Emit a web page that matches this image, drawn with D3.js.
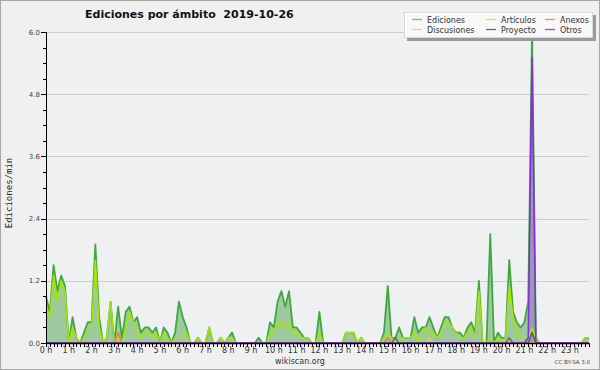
<!DOCTYPE html>
<html>
<head>
<meta charset="utf-8">
<script src="https://cdn.jsdelivr.net/npm/d3@7"></script>
<style>
  body { margin: 0; background: #fff; }
  svg { display: block; font-family: "DejaVu Sans", sans-serif; }
</style>
</head>
<body>
<svg width="600" height="370"></svg>
<script>
// one value every 10 minutes, edits per minute (6 per hour row)
const ediciones = [
  0.9,0.6,1.5,1.0,1.3,1.1,  0,0.5,0.1,0,0.2,0.4,  0.4,1.9,0.5,0,0.1,0.8,  0,0.7,0.1,0.6,0.7,0.4,
  0.5,0.2,0.3,0.3,0.2,0.3,  0,0.3,0.2,0,0.2,0.8,  0.5,0.3,0,0,0.1,0,      0,0.3,0,0,0.1,0,
  0.1,0.2,0,0,0,0,          0,0,0.1,0,0,0.4,      0.3,0.8,1.0,0.7,1.0,0.3, 0.3,0.2,0.1,0.1,0,0,
  0.6,0,0,0,0,0,            0,0.2,0.2,0.2,0,0.1,  0,0,0,0,0,0.2,          1.1,0.1,0.1,0.3,0.1,0.1,
  0.1,0.5,0.2,0.3,0.3,0.5,  0.3,0.1,0.3,0.5,0.5,0.3, 0.2,0.2,0.1,0.3,0.4,0.2, 1.2,0,0,2.1,0,0.2,
  0.1,0.1,1.6,0.6,0.4,0.3,  0.4,0.8,6.0,0.1,0,0,  0,0,0,0,0,0,            0,0,0,0,0.1,0.1
];
const articulos = [
  0.6,0.5,1.3,0.8,1.2,1.0,  0,0.3,0.1,0,0.1,0.3,  0.3,1.6,0.3,0,0.1,0.8,  0,0.2,0,0.3,0.6,0.4,
  0.2,0.1,0.2,0.2,0.1,0.2,  0,0.2,0.1,0,0.1,0.1,  0.1,0.2,0,0,0.1,0,      0,0.3,0,0,0.1,0,
  0.1,0.1,0,0,0,0,          0,0,0,0,0,0.2,        0.2,0.4,0.4,0.3,0.4,0.2, 0.2,0.1,0.1,0.1,0,0,
  0.2,0,0,0,0,0,            0,0.2,0.2,0.2,0,0.1,  0,0,0,0,0,0.1,          0.2,0.1,0,0,0.1,0.1,
  0.1,0.2,0,0.2,0.3,0.2,    0.2,0.1,0.2,0.4,0.4,0.3, 0.2,0.1,0.1,0.2,0.3,0.1, 1.0,0,0,0.1,0,0.1,
  0,0.1,1.1,0.5,0.2,0.1,    0.1,0.1,0.3,0.1,0,0,  0,0,0,0,0,0,            0,0,0,0,0.1,0.1
];
const anexos = [
  0,0,0,0,0,0, 0,0,0,0,0,0, 0,0,0,0,0,0, 0,0.2,0,0,0,0,
  0,0,0,0,0,0, 0,0,0,0,0,0, 0,0,0,0,0,0, 0,0,0,0,0,0,
  0,0,0,0,0,0, 0,0,0,0,0,0, 0,0,0,0,0,0, 0,0,0,0,0,0,
  0,0,0,0,0,0, 0,0,0,0,0,0, 0,0,0,0,0,0, 0.1,0,0,0,0,0,
  0,0,0,0,0,0, 0,0,0,0,0,0, 0,0,0,0,0,0, 0,0,0,0,0,0,
  0,0,0,0,0,0, 0,0,0,0,0,0, 0,0,0,0,0,0, 0,0,0,0,0,0
];
const discusiones = [
  0,0,0,0,0,0, 0,0,0,0,0,0, 0,0,0,0,0,0, 0,0,0,0,0,0,
  0,0,0,0,0,0, 0,0,0,0,0,0, 0,0,0,0,0,0, 0,0,0,0,0,0,
  0,0,0,0,0,0, 0,0,0,0,0,0, 0,0,0,0,0,0, 0,0,0,0,0,0,
  0,0,0,0,0,0, 0,0,0,0,0,0, 0,0,0,0,0,0, 0,0,0,0,0,0,
  0,0,0,0,0,0.1, 0,0,0,0,0,0, 0,0,0,0,0,0, 0,0,0,0,0,0,
  0,0,0,0,0,0, 0,0,0,0,0,0, 0,0,0,0,0,0, 0,0,0,0,0,0
];
const proyecto = [
  0,0,0,0,0,0, 0,0,0,0,0,0, 0,0,0,0,0,0, 0,0,0,0,0,0,
  0,0,0,0,0,0, 0,0,0,0,0,0, 0,0,0,0,0,0, 0,0,0,0,0,0,
  0,0,0,0,0,0, 0,0,0,0,0,0, 0,0,0,0,0,0, 0,0,0,0,0,0,
  0,0,0,0,0,0, 0,0,0,0,0,0, 0,0,0,0,0,0, 0,0,0.1,0,0,0,
  0,0,0,0,0,0, 0,0,0,0,0,0, 0,0,0,0,0,0, 0,0,0,0,0,0,
  0,0,0.1,0,0,0, 0,0,0.2,0,0,0, 0,0,0,0,0,0, 0,0,0,0,0,0
];
const otros = [
  0,0,0,0,0,0, 0,0,0,0,0,0, 0,0,0,0,0,0, 0,0,0,0,0,0,
  0,0,0,0,0,0, 0,0,0,0,0,0, 0,0,0,0,0,0, 0,0,0,0,0,0,
  0,0,0,0,0,0, 0,0,0,0,0,0, 0,0,0,0,0,0, 0,0,0,0,0,0,
  0,0,0,0,0,0, 0,0,0,0,0,0, 0,0,0,0,0,0, 0,0,0,0,0,0,
  0,0,0,0,0,0, 0,0,0,0,0,0, 0,0,0,0,0,0, 0,0,0,0,0,0,
  0,0,0,0,0,0, 0,0.1,5.5,0,0,0, 0,0,0,0,0,0, 0,0,0,0,0,0
];

const hourLabels = ["0 h","1 h","2 h","3 h","4 h","5 h","6 h","7 h","8 h","9 h","10 h","11 h",
                    "12 h","13 h","14 h","15 h","16 h","17 h","18 h","19 h","20 h","21 h","22 h","23 h"];
const yMajor = [0, 1.2, 2.4, 3.6, 4.8, 6.0];
const yMinor = [0.3, 0.6, 0.9, 1.5, 1.8, 2.1, 2.7, 3.0, 3.3, 3.9, 4.2, 4.5, 5.1, 5.4, 5.7];

const legendNames = ["Ediciones", "Artículos", "Anexos", "Discusiones", "Proyecto", "Otros"];
const colors = ["#3fa83f", "#a6e600", "#ff6a33", "#ffcc22", "#555555", "#8a2be2"];
const legendColors = ["#66cc66", "#c8f030", "#ff8855", "#ffd040", "#666666", "#9944ff"];

const margin = { top: 32, right: 11, bottom: 27, left: 46 },
      W = 600, H = 370,
      width = W - margin.left - margin.right,
      height = H - margin.top - margin.bottom;

const svg = d3.select("svg");

svg.append("rect").attr("x", 0.5).attr("y", 0.5).attr("width", W - 1).attr("height", H - 1)
  .attr("fill", "#f0f0f0").attr("stroke", "#a8a8a8");

const g = svg.append("g").attr("transform", `translate(${margin.left},${margin.top})`);

const x = d3.scaleLinear().domain([0, ediciones.length - 1]).range([0, width]);
const y = d3.scaleLinear().domain([0, 6]).range([height, 0]);

g.append("rect").attr("width", width).attr("height", height).attr("fill", "#eef0f2");

// grid
g.selectAll(".grid").data(yMajor.filter(v => v > 0)).enter().append("line")
  .attr("x1", 0).attr("x2", width)
  .attr("y1", d => Math.round(y(d)) + 0.5).attr("y2", d => Math.round(y(d)) + 0.5)
  .attr("stroke", "#cfcfcf");

const area = d3.area().x((d, i) => x(i)).y0(y(0)).y1(d => y(d));
const line = d3.line().x((d, i) => x(i)).y(d => y(d));

g.append("path").datum(ediciones).attr("d", area).attr("fill", "#9ec99e");
g.append("path").datum(otros).attr("d", area).attr("fill", colors[5]).attr("fill-opacity", 0.3);

const series = [ediciones, articulos, anexos, discusiones, proyecto, otros];
const widths = [1.8, 1.5, 1.2, 1.2, 1.2, 1.5];
series.forEach((s, k) => {
  g.append("path").datum(s).attr("d", line)
    .attr("fill", "none").attr("stroke", colors[k]).attr("stroke-width", widths[k])
    .attr("stroke-linejoin", "round");
});

// y axis
const yAxis = g.append("g");
yAxis.append("line").attr("x1", 0.5).attr("x2", 0.5).attr("y1", 0).attr("y2", height)
  .attr("stroke", "#000");
yAxis.selectAll(".maj").data(yMajor).enter().append("line")
  .attr("x1", -5).attr("x2", 0.5)
  .attr("y1", d => Math.round(y(d)) + 0.5).attr("y2", d => Math.round(y(d)) + 0.5)
  .attr("stroke", "#000");
yAxis.selectAll(".min").data(yMinor).enter().append("line")
  .attr("x1", -3).attr("x2", 0.5)
  .attr("y1", d => Math.round(y(d)) + 0.5).attr("y2", d => Math.round(y(d)) + 0.5)
  .attr("stroke", "#000");
yAxis.selectAll(".lab").data(yMajor).enter().append("text")
  .attr("x", -6).attr("y", d => y(d) + 2.5)
  .attr("text-anchor", "end").attr("font-size", 7).attr("fill", "#444")
  .text(d => d.toFixed(1));

// x axis
const xAxis = g.append("g").attr("transform", `translate(0,${height})`);
xAxis.append("line").attr("x1", 0).attr("x2", width).attr("y1", 0.5).attr("y2", 0.5)
  .attr("stroke", "#000").attr("stroke-width", 1.5);
xAxis.selectAll(".tk").data(ediciones).enter().append("line")
  .attr("x1", (d, i) => Math.round(x(i)) + 0.5).attr("x2", (d, i) => Math.round(x(i)) + 0.5)
  .attr("y1", 0).attr("y2", 4).attr("stroke", "#000");
xAxis.selectAll(".hl").data(hourLabels).enter().append("text")
  .attr("x", (d, i) => x(i * 6)).attr("y", 10)
  .attr("text-anchor", "middle").attr("font-size", 8).attr("fill", "#333")
  .text(d => d);

// titles
svg.append("text").attr("x", 85).attr("y", 17.5)
  .attr("font-size", 11).attr("font-weight", "bold").attr("fill", "#111")
  .attr("xml:space", "preserve")
  .text("Ediciones por ámbito  2019-10-26");

svg.append("text").attr("transform", "translate(12,193) rotate(-90)")
  .attr("text-anchor", "middle").attr("font-family", "DejaVu Sans Mono")
  .attr("font-size", 9).attr("fill", "#222")
  .text("Ediciones/min");

svg.append("text").attr("x", 300).attr("y", 364)
  .attr("text-anchor", "middle").attr("font-size", 8).attr("fill", "#333")
  .text("wikiscan.org");

svg.append("text").attr("x", 590).attr("y", 364)
  .attr("text-anchor", "end").attr("font-size", 5.5).attr("fill", "#444")
  .text("CC BY-SA 3.0");

// legend
const lg = svg.append("g");
lg.append("rect").attr("x", 407).attr("y", 15).attr("width", 189).attr("height", 26).attr("fill", "#9a9a9a");
lg.append("rect").attr("x", 404.5).attr("y", 12.5).attr("width", 188).attr("height", 25)
  .attr("fill", "#ffffff").attr("fill-opacity", 0.93).attr("stroke", "#d8d8d8");
const colX = [412, 486, 545], rowY = [19.5, 29.5];
legendNames.forEach((name, k) => {
  const cx = colX[k % 3], cy = rowY[Math.floor(k / 3)];
  lg.append("line").attr("x1", cx).attr("x2", cx + 10).attr("y1", cy).attr("y2", cy)
    .attr("stroke", legendColors[k]).attr("stroke-width", 1.3);
  lg.append("text").attr("x", cx + 15).attr("y", cy + 3)
    .attr("font-size", 8).attr("fill", "#333").text(name);
});
</script>
</body>
</html>
